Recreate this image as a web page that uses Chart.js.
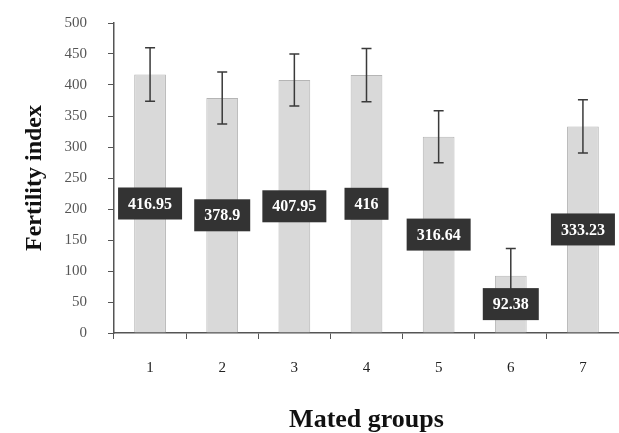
<!DOCTYPE html>
<html>
<head>
<meta charset="utf-8">
<script src="https://cdn.jsdelivr.net/npm/chart.js@4.4.0/dist/chart.umd.min.js"></script>
<style>
  body { margin: 0; background: #fff; }
  #wrap { width: 619px; height: 433px; }
</style>
</head>
<body>
<div id="wrap"><canvas id="myChart"></canvas></div>
<script>
const groups = ['1', '2', '3', '4', '5', '6', '7'];
const fertility = [416.95, 378.9, 407.95, 416, 316.64, 92.38, 333.23];
const errors = [43, 42, 42, 43, 42, 44, 43];
const labels = ['416.95', '378.9', '407.95', '416', '316.64', '92.38', '333.23'];

const serif = '"Liberation Serif", "Times New Roman", serif';

// error bars + value boxes drawn on top of the bars
const barExtras = {
  id: 'barExtras',
  afterDatasetsDraw(chart) {
    const ctx = chart.ctx;
    const y = chart.scales.y;
    const bars = chart.getDatasetMeta(0).data;
    ctx.save();
    ctx.strokeStyle = '#3a3a3a';
    ctx.lineWidth = 1.5;
    bars.forEach(function (bar, i) {
      const hi = y.getPixelForValue(fertility[i] + errors[i]);
      const lo = y.getPixelForValue(fertility[i] - errors[i]);
      ctx.beginPath();
      ctx.moveTo(bar.x, hi); ctx.lineTo(bar.x, lo);
      ctx.moveTo(bar.x - 5, hi); ctx.lineTo(bar.x + 5, hi);
      ctx.moveTo(bar.x - 5, lo); ctx.lineTo(bar.x + 5, lo);
      ctx.stroke();
    });
    ctx.font = 'bold 16px ' + serif;
    ctx.textAlign = 'center';
    ctx.textBaseline = 'middle';
    bars.forEach(function (bar, i) {
      const cy = (bar.y + bar.base) / 2;
      const w = ctx.measureText(labels[i]).width + 20;
      ctx.fillStyle = '#333333';
      ctx.fillRect(bar.x - w / 2, cy - 16, w, 32);
      ctx.fillStyle = '#ffffff';
      ctx.fillText(labels[i], bar.x, cy + 1);
    });
    ctx.restore();
  }
};

const ctx = document.getElementById('myChart').getContext('2d');
new Chart(ctx, {
  type: 'bar',
  data: {
    labels: groups,
    datasets: [{
      data: fertility,
      backgroundColor: '#d9d9d9',
      borderColor: '#b5b5b5',
      borderWidth: 1,
      barPercentage: 0.44,
      categoryPercentage: 1
    }]
  },
  options: {
    responsive: true,
    maintainAspectRatio: false,
    animation: false,
    layout: { padding: { top: 23, right: 0, bottom: 0, left: 0 } },
    plugins: {
      legend: { display: false },
      tooltip: { enabled: false }
    },
    scales: {
      x: {
        afterFit: function (scale) { scale.height = 100; },
        grid: { display: true, drawOnChartArea: false, offset: true, tickLength: 6, color: '#555' },
        border: { color: '#555', width: 1.5 },
        ticks: { color: '#222', font: { family: serif, size: 15 }, padding: 20 },
        title: {
          display: true, text: 'Mated groups', color: '#111',
          font: { family: serif, size: 26, weight: 'bold' },
          padding: { top: -3, bottom: -3 }
        }
      },
      y: {
        min: 0, max: 500,
        afterFit: function (scale) {
          scale.width = 114;
          scale.paddingTop = 0;
          scale.paddingBottom = 0;
        },
        grid: { display: true, drawOnChartArea: false, tickLength: 6, color: '#555' },
        border: { color: '#555', width: 1.5 },
        ticks: { stepSize: 50, color: '#555', font: { family: serif, size: 15 }, padding: 21 },
        title: {
          display: true, text: 'Fertility index', color: '#111',
          font: { family: serif, size: 24, weight: 'bold' },
          padding: { top: 20, bottom: 20 }
        }
      }
    }
  },
  plugins: [barExtras]
});
</script>
</body>
</html>
